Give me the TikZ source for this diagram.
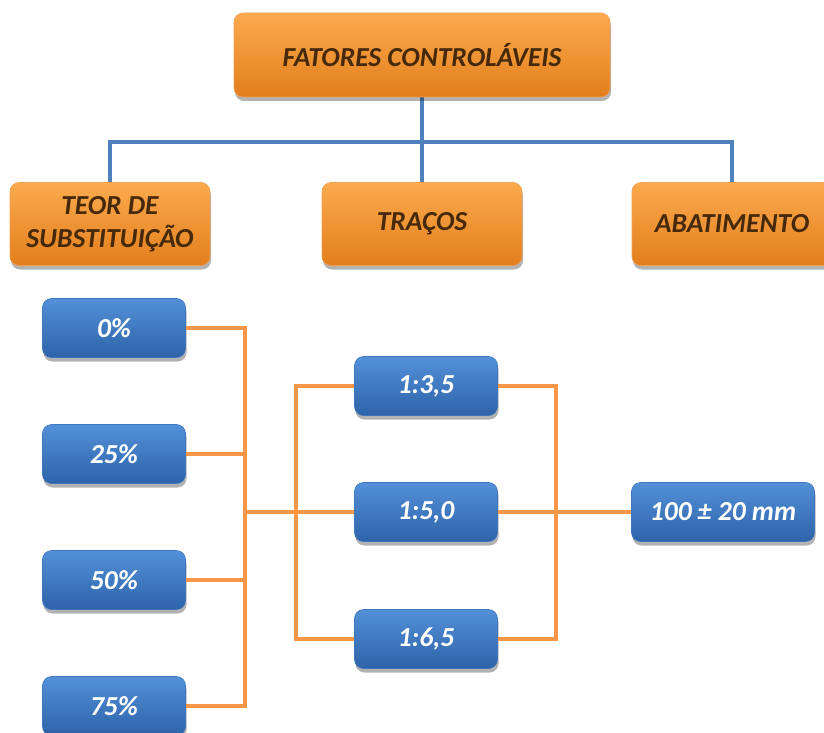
\documentclass[tikz,border=0pt]{standalone}
\usepackage{fontspec}
\setmainfont{Carlito}
\usetikzlibrary{shadows}
\definecolor{orTop}{HTML}{FBAA4E}
\definecolor{orBot}{HTML}{E27E1C}
\definecolor{orEdge}{HTML}{F2A052}
\definecolor{orText}{HTML}{45290A}
\definecolor{blTop}{HTML}{5390D8}
\definecolor{blBot}{HTML}{2D63A9}
\definecolor{blEdge}{HTML}{3F76BE}
\definecolor{lnBlue}{HTML}{4F81BD}
\definecolor{lnOrange}{HTML}{F79646}
\tikzset{
  basebox/.style={rounded corners=9pt, inner sep=2pt, align=center,
    font=\fontsize{27.5}{33}\selectfont\bfseries\itshape,
    drop shadow={shadow xshift=1pt, shadow yshift=-4pt, opacity=0.3, fill=black}},
  orbox/.style={basebox, top color=orTop, bottom color=orBot, draw=orEdge,
    line width=0.6pt, text=orText, minimum width=200pt, minimum height=83pt},
  blbox/.style={basebox, top color=blTop, bottom color=blBot, draw=blEdge,
    line width=0.6pt, text=white, minimum width=143pt, minimum height=59pt},
  blueline/.style={draw=lnBlue, line width=3.2pt},
  orline/.style={draw=lnOrange, line width=3.4pt},
}
\begin{document}
\begin{tikzpicture}[x=1pt, y=-1pt]
\useasboundingbox (0,0) rectangle (824,733);
\clip (0,0) rectangle (824,733);

% junction points of the connector trees
\coordinate (hb) at (422,142);
\coordinate (jl) at (245,512);
\coordinate (jm) at (296,512);
\coordinate (jr) at (556,512);

% blue tree lines, drawn first so the boxes cover their ends
\path (422,55) coordinate (topc) (110,224) coordinate (teorc)
      (422,224) coordinate (tracoc) (732,224) coordinate (abatc);
\draw[blueline] (topc) -- (tracoc);
\draw[blueline] (teorc) -- (teorc |- hb) -- (abatc |- hb) -- (abatc);

% controllable factors
\node[orbox, minimum width=376pt, minimum height=84pt] (top) at (topc) {FATORES CONTROLÁVEIS};
\node[orbox] (teor) at (teorc) {TEOR DE\\SUBSTITUIÇÃO};
\node[orbox] (traco) at (tracoc) {TRAÇOS};
\node[orbox] (abat) at (abatc) {ABATIMENTO};

% first column: substitution levels
\node[blbox] (p0)  at (114,328) {0\%};
\node[blbox] (p25) at (114,454) {25\%};
\node[blbox] (p50) at (114,580) {50\%};
\node[blbox] (p75) at (114,706) {75\%};

% second column: mix proportions
\node[blbox] (m35) at (426,386) {1:3,5};
\node[blbox] (m50) at (426,512) {1:5,0};
\node[blbox] (m65) at (426,639) {1:6,5};

% slump
\node[blbox, minimum width=183pt] (res) at (723,512) {100 ± 20 mm};

% orange links
\draw[orline] (p0.east) -| (jl) |- (p75.east);
\draw[orline] (p25.east) -- (p25.east -| jl);
\draw[orline] (p50.east) -- (p50.east -| jl);
\draw[orline] (jl) -- (m50.west);
\draw[orline] (m35.west) -| (jm) |- (m65.west);
\draw[orline] (m35.east) -| (jr) |- (m65.east);
\draw[orline] (m50.east) -- (res.west);
\end{tikzpicture}
\end{document}
